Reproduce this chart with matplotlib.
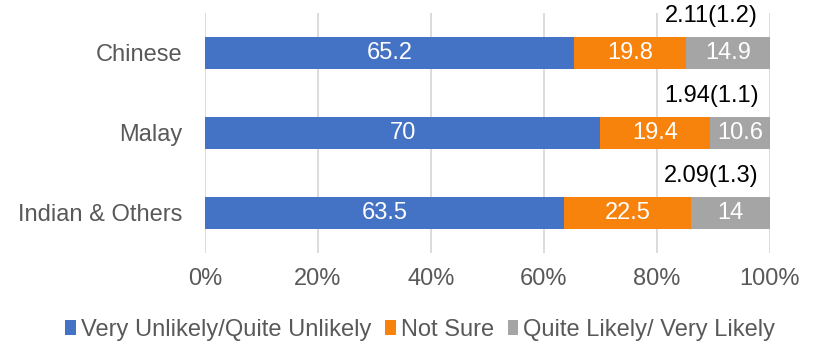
import matplotlib
matplotlib.use("Agg")
import matplotlib.pyplot as plt
import numpy as np
from matplotlib.patches import Patch

plt.rcParams['font.family'] = ['Liberation Sans', 'DejaVu Sans']

categories = ["Chinese", "Malay", "Indian & Others"]
series_names = ["Very Unlikely/Quite Unlikely", "Not Sure", "Quite Likely/ Very Likely"]
unlikely = [65.2, 70, 63.5]
not_sure = [19.8, 19.4, 22.5]
likely = [14.9, 10.6, 14]
mean_sd = ["2.11(1.2)", "1.94(1.1)", "2.09(1.3)"]
x_ticks = [0, 20, 40, 60, 80, 100]
x_tick_labels = ["0%", "20%", "40%", "60%", "80%", "100%"]

colors = ["#4472C4", "#F7820C", "#A5A5A5"]
text_gray = "#595959"
fs = 17

fig = plt.figure(figsize=(8.16, 3.47), dpi=100)
ax = fig.add_axes([0.2512, 0.271, 0.6924, 0.6916])

data = np.array([unlikely, not_sure, likely], dtype=float)
shares = data / data.sum(axis=0) * 100
y = np.arange(len(categories))
left = np.zeros(len(categories))
for i, name in enumerate(series_names):
    bars = ax.barh(y, shares[i], left=left, height=0.41, color=colors[i],
                   label=name, zorder=3)
    for j, b in enumerate(bars):
        ax.text(left[j] + shares[i][j] / 2, y[j], f"{data[i][j]:g}",
                ha="center", va="center", color="white", fontsize=fs, zorder=4)
    left += shares[i]

for j, txt in enumerate(mean_sd):
    ax.text(89.6, y[j] - 0.46, txt, ha="center", va="center",
            color="black", fontsize=fs, zorder=4,
            bbox=dict(facecolor="white", edgecolor="none", pad=1))

ax.set_xlim(0, 100)
ax.set_ylim(2.5, -0.5)
ax.set_xticks(x_ticks)
ax.set_xticklabels(x_tick_labels)
ax.set_yticks(y)
ax.set_yticklabels(categories)
ax.tick_params(axis="x", length=0, pad=11, labelsize=fs, labelcolor=text_gray)
ax.tick_params(axis="y", length=0, pad=16, labelsize=fs, labelcolor=text_gray)
ax.grid(axis="x", color="#D9D9D9", linewidth=1.3, zorder=0)
ax.set_axisbelow(True)
for s in ax.spines.values():
    s.set_visible(False)

handles = [Patch(facecolor=c, edgecolor="none") for c in colors]
fig.legend(handles, series_names, loc="center", bbox_to_anchor=(0.515, 0.049),
           ncol=3, frameon=False, fontsize=fs, labelcolor=text_gray,
           handlelength=0.45, handleheight=0.6, handletextpad=0.2,
           columnspacing=0.6)

fig.savefig("out.png", dpi=100)
